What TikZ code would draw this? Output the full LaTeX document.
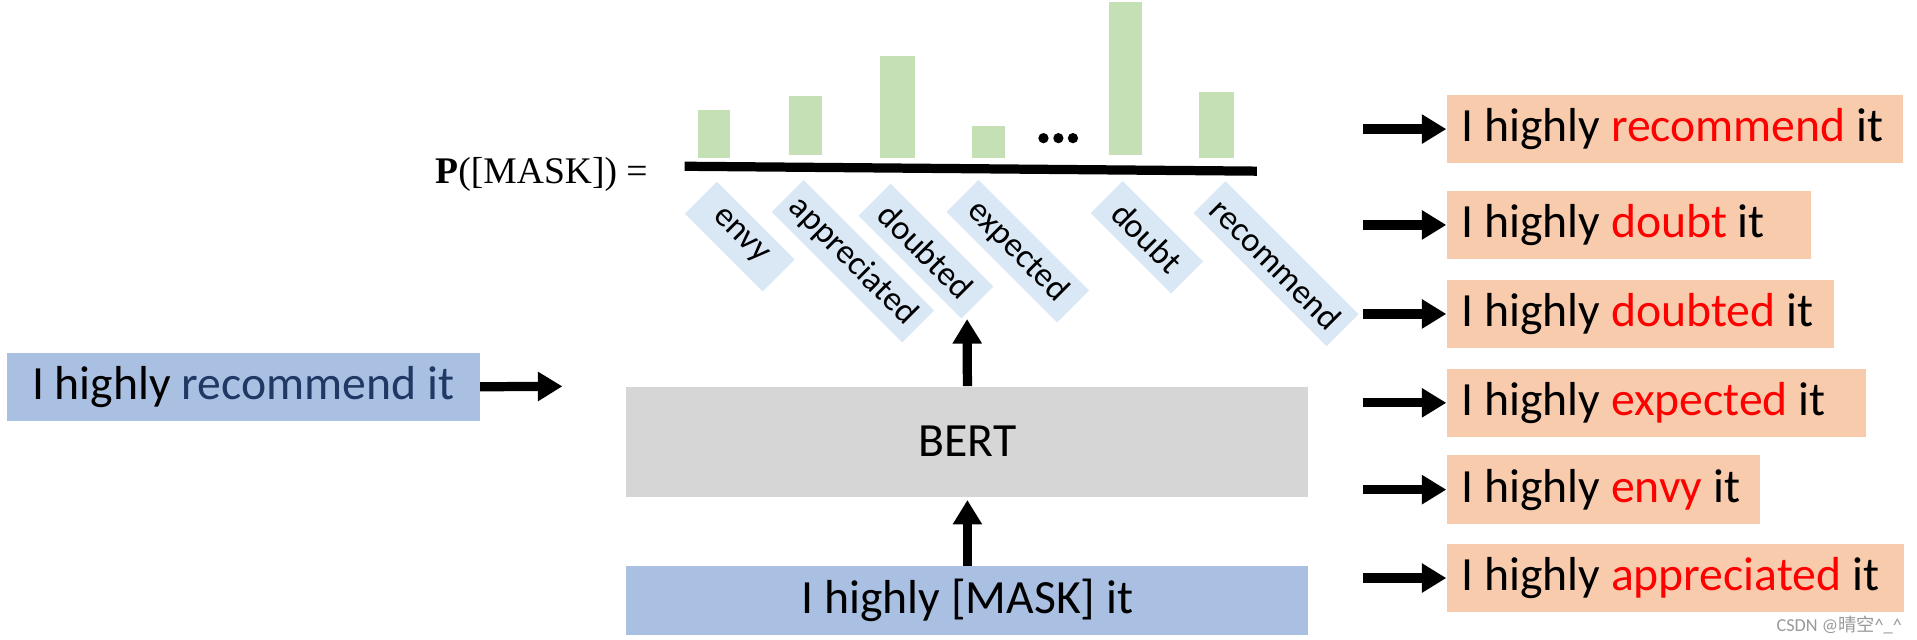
\documentclass[tikz,border=0pt]{standalone}
\usepackage[no-math]{fontspec}
\setmainfont{Carlito}
\newfontfamily\probfont{Liberation Serif}
\newfontfamily\cjkfont{Noto Sans CJK SC}
\usetikzlibrary{arrows.meta,positioning}

\definecolor{barGreen}{RGB}{197,224,180}
\definecolor{tagBlue}{RGB}{218,232,246}
\definecolor{boxBlue}{RGB}{170,192,227}
\definecolor{bertGray}{RGB}{214,214,214}
\definecolor{candOrange}{RGB}{248,203,173}
\definecolor{wordNavy}{RGB}{31,56,100}
\definecolor{wordRed}{RGB}{255,0,0}

\begin{document}
\begin{tikzpicture}[
  x=0.02cm, y=0.02cm,
  sent/.style={inner sep=0pt, minimum height=1.12cm, font=\fontsize{22.2}{26}\selectfont},
  src/.style={sent, fill=boxBlue},
  cand/.style={sent, fill=candOrange, anchor=west, inner xsep=0.24cm},
  tag/.style={fill=tagBlue, rotate=-45, anchor=west, minimum height=0.74cm, inner sep=0pt, font=\fontsize{16}{18}\selectfont},
  arr/.style={-{Triangle[length=11.4pt,width=13pt]}, line width=4.3pt},
  bar/.style={fill=barGreen}
]
\useasboundingbox (0,0) rectangle (1568,-523);

% input sentence and BERT
\node[src, minimum width=7.74cm, anchor=north west] (orig) at (5,-288) {I highly \textcolor{wordNavy}{recommend it}};
\coordinate (origend) at (460,-316);
\draw[arr] (orig.east) -- (origend);

\node[src, minimum width=11.16cm, anchor=north west] (mask) at (512,-463) {I highly [MASK] it};
\node[sent, fill=bertGray, minimum width=11.16cm, minimum height=1.8cm, font=\fontsize{22.2}{26}\selectfont, above=1.13cm of mask] (bert) {BERT};
\coordinate (pred) at (791,-261);
\draw[arr, shorten >=1.4pt] (mask.north) -- (bert.south);
\draw[arr] (bert.north) -- (pred);

% distribution over the vocabulary
\node[font=\fontsize{17.5}{20}\selectfont\probfont] (prob) at (443,-143) {\textbf{P}([MASK]) =};
\draw[line width=4.3pt] (560,-136) -- (1028,-140);
\foreach \xa/\xb/\ya/\yb in {571/597/90/129.5, 645/672/78.5/127, 720/748/46/129.5, 795/822/103/129.5, 907/934/1.4/127, 981/1009/75/129.5}
  \fill[bar] (\xa,-\ya) rectangle (\xb,-\yb);
\foreach \cx in {853.5,865.7,877.6}
  \fill (\cx,-113) circle (4.2);

\foreach \x/\y/\len/\word in {573/161.5/1.8/envy, 644/160/3.02/appreciated, 715/163/2.38/doubted, 787/160/2.56/expected, 905/161/1.86/doubt, 989/161/3.08/recommend}
  \node[tag, minimum width=\len cm] (tag-\word) at (\x,-\y) {\word};

% candidate sentences
\foreach \yc/\tw/\word [count=\i] in {105.6/6.99/recommend, 184/5.48/doubt, 256.8/5.86/doubted, 329.5/6.38/expected, 400.5/4.64/envy, 472.8/7.0/appreciated} {
  \node[cand] (cand\i) at (1183,-\yc) {\makebox[\tw cm][l]{I highly \textcolor{wordRed}{\word} it}};
  \coordinate (candtail\i) at (1115,-\yc);
  \draw[arr] (candtail\i) -- (cand\i.west);
}

\node[anchor=east, inner sep=0pt, text=black!40, font=\fontsize{8.5}{10}\selectfont] (wm) at (1556,-511) {CSDN @{\cjkfont 晴空}\textasciicircum\_\textasciicircum};
\end{tikzpicture}
\end{document}
